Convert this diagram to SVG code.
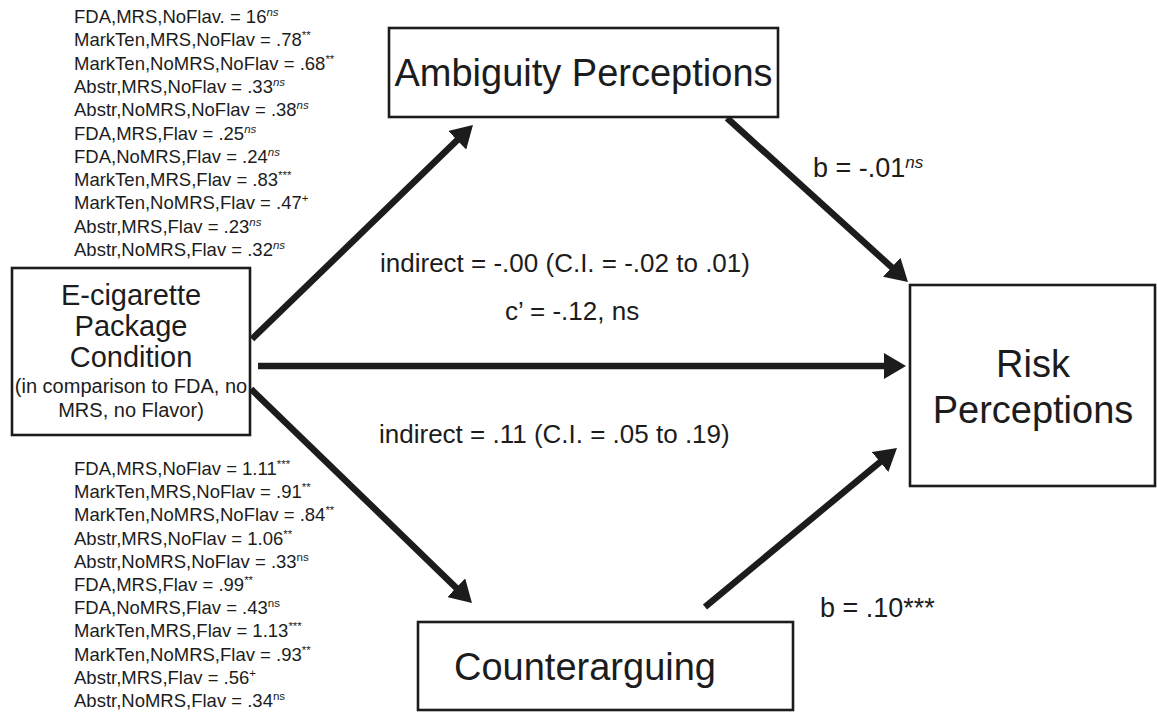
<svg xmlns="http://www.w3.org/2000/svg" width="1157" height="713" viewBox="0 0 1157 713">
<style>
text{font-family:"Liberation Sans",Arial,Helvetica,sans-serif;fill:#1c1c1c}
.box{fill:#fff;stroke:#1c1c1c;stroke-width:2.6}
.big{font-size:38px}
.mid{font-size:29px}
.note{font-size:20px}
.lab{font-size:26px}
.blab{font-size:27px}
.sm{font-size:18.5px}
.sup{font-size:11.5px}
.it{font-style:italic}
.arr{stroke:#1c1c1c;stroke-width:6.5;fill:none;marker-end:url(#ah)}
</style>
<defs>
<marker id="ah" markerUnits="userSpaceOnUse" markerWidth="22" markerHeight="26" refX="8" refY="13" orient="auto">
<path d="M0,0 L22,13 L0,26 z" fill="#1c1c1c"/>
</marker>
</defs>
<rect width="1157" height="713" fill="#fff"/>
<g id="connectors">
<line class="arr" x1="252" y1="339" x2="462.9" y2="134.7"/>
<line class="arr" x1="727" y1="118" x2="897.6" y2="272.6"/>
<line class="arr" x1="258" y1="366" x2="892" y2="366"/>
<line class="arr" x1="251" y1="389" x2="461.9" y2="593.3"/>
<line class="arr" x1="705" y1="607" x2="886.2" y2="456.9"/>
</g>
<g id="node-ambiguity">
<rect class="box" x="389" y="28" width="389" height="89"/>
<text class="big" x="583.5" y="86" text-anchor="middle">Ambiguity Perceptions</text>
</g>
<g id="node-ecig">
<rect class="box" x="12" y="268" width="238" height="167"/>
<text class="mid" x="131" y="305" text-anchor="middle">E-cigarette</text>
<text class="mid" x="131" y="336" text-anchor="middle">Package</text>
<text class="mid" x="131" y="367" text-anchor="middle">Condition</text>
<text class="note" x="131" y="393" text-anchor="middle">(in comparison to FDA, no</text>
<text class="note" x="131" y="417" text-anchor="middle">MRS, no Flavor)</text>
</g>
<g id="node-risk">
<rect class="box" x="910" y="285" width="245" height="201"/>
<text class="big" x="1033" y="377" text-anchor="middle">Risk</text>
<text class="big" x="1033" y="423" text-anchor="middle">Perceptions</text>
</g>
<g id="node-counter">
<rect class="box" x="418" y="622" width="375" height="88"/>
<text class="big" x="585" y="680" text-anchor="middle">Counterarguing</text>
</g>
<g id="labels">
<text class="blab" x="813" y="177">b = -.01<tspan class="it" style="font-size:17px" dy="-9">ns</tspan></text>
<text class="lab" x="380" y="272">indirect = -.00 (C.I. = -.02 to .01)</text>
<text class="lab" x="505" y="320">c’ = -.12, ns</text>
<text class="lab" x="379" y="443">indirect = .11 (C.I. = .05 to .19)</text>
<text class="blab" x="820" y="617">b = .10***</text>
</g>
<g id="upper-coefficients">
<text class="sm" x="74" y="23">FDA,MRS,NoFlav. = 16<tspan class="sup it" dy="-7">ns</tspan></text>
<text class="sm" x="74" y="46.3">MarkTen,MRS,NoFlav = .78<tspan class="sup" dy="-7">**</tspan></text>
<text class="sm" x="74" y="69.6">MarkTen,NoMRS,NoFlav = .68<tspan class="sup" dy="-7">**</tspan></text>
<text class="sm" x="74" y="92.9">Abstr,MRS,NoFlav = .33<tspan class="sup it" dy="-7">ns</tspan></text>
<text class="sm" x="74" y="116.2">Abstr,NoMRS,NoFlav = .38<tspan class="sup it" dy="-7">ns</tspan></text>
<text class="sm" x="74" y="139.5">FDA,MRS,Flav = .25<tspan class="sup it" dy="-7">ns</tspan></text>
<text class="sm" x="74" y="162.8">FDA,NoMRS,Flav = .24<tspan class="sup it" dy="-7">ns</tspan></text>
<text class="sm" x="74" y="186.1">MarkTen,MRS,Flav = .83<tspan class="sup" dy="-7">***</tspan></text>
<text class="sm" x="74" y="209.4">MarkTen,NoMRS,Flav = .47<tspan class="sup" dy="-7">+</tspan></text>
<text class="sm" x="74" y="232.7">Abstr,MRS,Flav = .23<tspan class="sup it" dy="-7">ns</tspan></text>
<text class="sm" x="74" y="256">Abstr,NoMRS,Flav = .32<tspan class="sup it" dy="-7">ns</tspan></text>
</g>
<g id="lower-coefficients">
<text class="sm" x="74" y="475">FDA,MRS,NoFlav = 1.11<tspan class="sup" dy="-7">***</tspan></text>
<text class="sm" x="74" y="498.2">MarkTen,MRS,NoFlav = .91<tspan class="sup" dy="-7">**</tspan></text>
<text class="sm" x="74" y="521.4">MarkTen,NoMRS,NoFlav = .84<tspan class="sup" dy="-7">**</tspan></text>
<text class="sm" x="74" y="544.6">Abstr,MRS,NoFlav = 1.06<tspan class="sup" dy="-7">**</tspan></text>
<text class="sm" x="74" y="567.8">Abstr,NoMRS,NoFlav = .33<tspan class="sup" dy="-7">ns</tspan></text>
<text class="sm" x="74" y="591">FDA,MRS,Flav = .99<tspan class="sup" dy="-7">**</tspan></text>
<text class="sm" x="74" y="614.2">FDA,NoMRS,Flav = .43<tspan class="sup" dy="-7">ns</tspan></text>
<text class="sm" x="74" y="637.4">MarkTen,MRS,Flav = 1.13<tspan class="sup" dy="-7">***</tspan></text>
<text class="sm" x="74" y="660.6">MarkTen,NoMRS,Flav = .93<tspan class="sup" dy="-7">**</tspan></text>
<text class="sm" x="74" y="683.8">Abstr,MRS,Flav = .56<tspan class="sup" dy="-7">+</tspan></text>
<text class="sm" x="74" y="707">Abstr,NoMRS,Flav = .34<tspan class="sup" dy="-7">ns</tspan></text>
</g>
</svg>
